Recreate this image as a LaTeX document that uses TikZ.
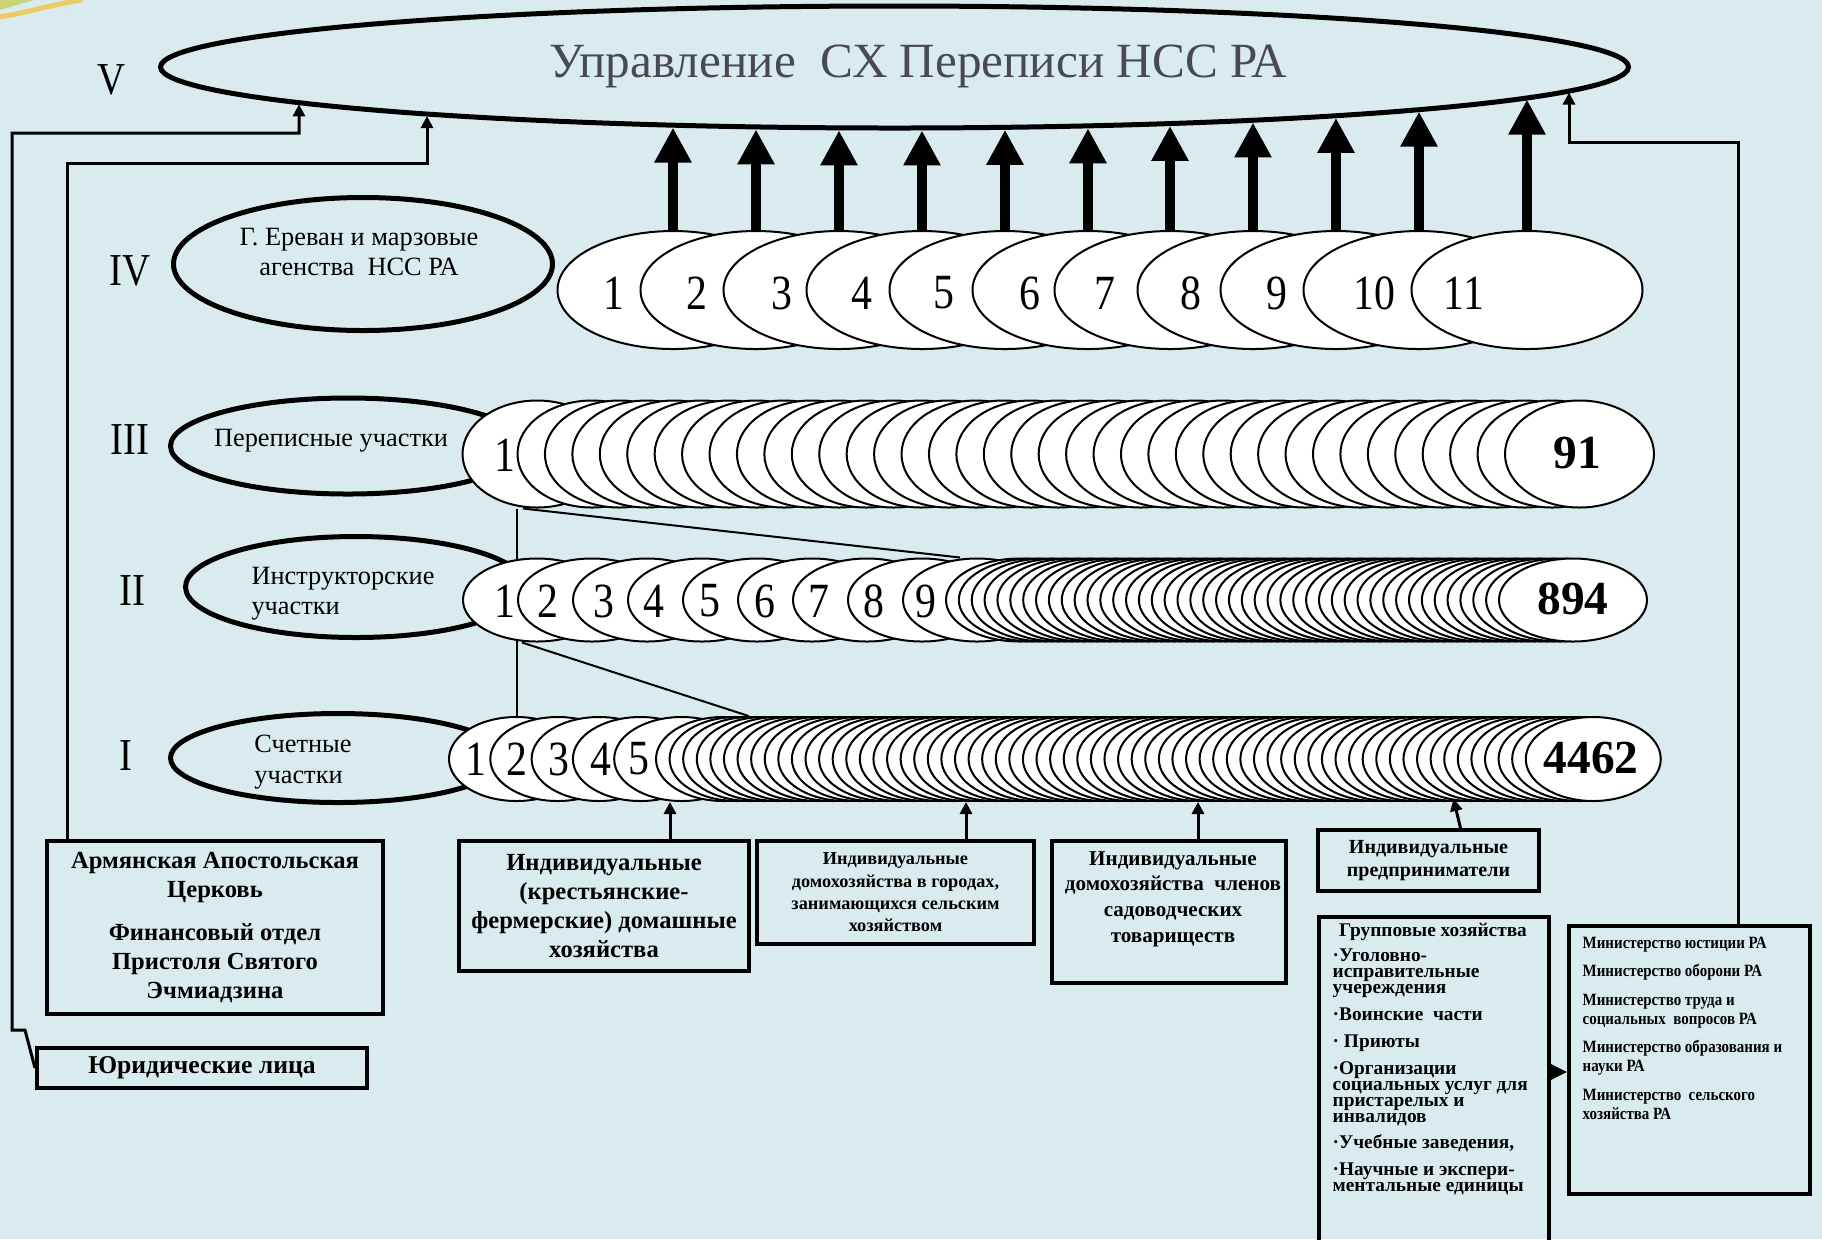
\documentclass[tikz,border=0pt]{standalone}
\usepackage{fontspec}
\setmainfont{Liberation Serif}
\newfontfamily\numfont[FakeStretch=0.85]{Liberation Serif}
\newfontfamily\narrowfont[FakeStretch=0.87]{Liberation Serif}
\usetikzlibrary{shapes.geometric, arrows.meta}
\definecolor{slide}{RGB}{218,235,240}
\definecolor{headgray}{RGB}{72,72,88}
\definecolor{streak}{RGB}{236,204,96}
\definecolor{leaf}{RGB}{200,214,120}
\pgfdeclarelayer{backdrop}
\pgfdeclarelayer{behind}
\pgfsetlayers{backdrop,behind,main}
\newcommand\tightlines{\lineskiplimit=-5pt\relax}
\tikzset{
    tier/.style={ellipse, draw, line width=0.5mm, inner sep=0pt},
    tiertext/.style={font=\fontsize{7.5}{8.6}\selectfont, align=center, inner sep=0pt},
    rank/.style={font=\numfont\fontsize{13}{13}\selectfont, inner sep=0pt},
    disc/.style={ellipse, draw, fill=white, line width=0.2mm, inner sep=0pt},
    disc4/.style={disc, minimum width=23.1mm, minimum height=11.8mm},
    disc3/.style={disc, minimum width=14.9mm, minimum height=10.7mm},
    disc2/.style={disc, minimum width=14.8mm, minimum height=8.3mm},
    disc1/.style={disc, minimum width=13.5mm, minimum height=8.4mm},
    num/.style={font=\numfont\fontsize{14}{14}\selectfont, inner sep=0pt},
    bignum/.style={font=\bfseries\fontsize{13.5}{14}\selectfont, inner sep=0pt},
    cellbox/.style={draw, line width=0.4mm, align=center, inner sep=0pt},
    bigarrow/.style={line width=1mm, -{Triangle[length=3.5mm, width=3.5mm]}},
    feed/.style={line width=0.3mm, -{Triangle[length=1.2mm, width=1.2mm]}},
    link/.style={line width=0.2mm},
    declare function={rim(\x)=67+63.5*sqrt(1-((\x-894.5)/736.5)^2);}
}

\begin{document}
\begin{tikzpicture}[x=0.1mm, y=-0.1mm]
\useasboundingbox (0,0) rectangle (1822,1239);
\begin{pgfonlayer}{backdrop}
    \fill[slide] (0,0) rectangle (1822,1239);
    \fill[leaf] (0,0) -- (34,0) .. controls (20,4) .. (0,10) -- cycle;
    \draw[streak, line width=0.5mm] (0,17) .. controls (30,12) and (50,5) .. (82,0);
\end{pgfonlayer}
\clip (0,0) rectangle (1822,1239);

% level V
\node[tier, minimum width=146.8mm, minimum height=12.2mm] (vring) at (894.5,67) {};
\node[font=\fontsize{14}{16}\selectfont, text=headgray] (vtitle) at (918,66) {Управление\ \ СХ Переписи НСС РА};

% roman numerals
\node[rank] (lv5) at (112,80) {V};
\node[rank] (lv4) at (130,271) {IV};
\node[rank] (lv3) at (130,440) {III};
\node[rank] (lv2) at (132,591) {II};
\node[rank] (lv1) at (126,756) {I};

% tier names
\node[tier, minimum width=37.9mm, minimum height=13.3mm] (t4) at (363,264) {};
\node[tiertext] (t4text) at (359,252) {Г. Ереван и марзовые\\агенства\ \ НСС РА};
\node[tier, minimum width=35.5mm, minimum height=9.6mm] (t3) at (348,446) {};
\node[tiertext] (t3text) at (331,441) {Переписные участки};
\node[tier, minimum width=34.1mm, minimum height=10.1mm] (t2) at (356,587) {};
\node[tiertext, align=left] (t2text) at (343,594) {Инструкторские\\участки};
\node[tier, minimum width=33.5mm, minimum height=8.9mm] (t1) at (338,758) {};
\node[tiertext, align=left] (t1text) at (303,762) {Счетные\\участки};

% row IV
\foreach \i/\x/\lx in {1/673/614, 2/756/697, 3/839/782, 4/922/862, 5/1005/944, 6/1088/1030,
                       7/1170/1105, 8/1253/1191, 9/1336/1277, 10/1419/1374, 11/1527/1464}{
    \node[disc4] (r4-\i) at (\x,290) {};
    \node[num] (n4-\i) at (\lx,293) {\i};
    \coordinate (a\i) at (\x,{rim(\x)});
}
\foreach \i in {1,...,11}
    \draw[bigarrow] (r4-\i.north) -- (a\i);

% row III
\node[disc3] (r3-1) at (537,454) {};
\node[num] (n3-1) at (505,455) {1};
\foreach \i in {2,...,38}
    \node[disc3] (r3-\i) at ({592+(\i-2)*27.43},454) {};
\node[bignum] (n3-38) at (1577,453) {91};

% row II
\foreach \i/\lx in {1/505, 2/548, 3/604, 4/654, 5/710, 6/765, 7/819, 8/874, 9/926}{
    \node[disc2] (r2-\i) at ({537+(\i-1)*55},600) {};
    \node[num] (n2-\i) at (\lx,601) {\i};
}
\foreach \i in {10,...,53}
    \node[disc2] (r2-\i) at ({1020+(\i-10)*12.86},600) {};
\node[bignum] (n2-53) at (1573,599) {894};

% row I
\foreach \i/\lx in {1/476, 2/517, 3/559, 4/601, 5/639}{
    \node[disc1] (r1-\i) at ({516.5+(\i-1)*41.3},759) {};
    \node[num] (n1-\i) at (\lx,759) {\i};
}
\foreach \i in {6,...,70}
    \node[disc1] (r1-\i) at ({723.5+(\i-6)*13.59},759) {};
\node[bignum] (n1-70) at (1591,758) {4462};

\begin{pgfonlayer}{behind}
    \draw[link] (r1-1.north) -- (r1-1.north |- r3-1.south);
    \draw[link] ([xshift=-1.4mm]r3-1.south) -- ([xshift=-1.7mm]r2-9.north);
    \draw[link] ([xshift=-1.5mm]r2-1.south) -- ([xshift=-0.2mm]r1-8.north);
\end{pgfonlayer}

% respondents
\node[cellbox, minimum width=33.6mm, minimum height=17.3mm, font=\bfseries\fontsize{7}{8.25}\selectfont] (church) at (215,927.5)
    {Армянская Апостольская\\Церковь\\[4pt]Финансовый отдел\\Пристоля Святого\\Эчмиадзина};
\node[cellbox, minimum width=33mm, minimum height=4mm, font=\bfseries\fontsize{7.3}{8.5}\selectfont] (yur) at (202,1068) {Юридические лица};
\node[cellbox, minimum width=29mm, minimum height=13mm, font=\bfseries\fontsize{7}{8.25}\selectfont] (crop) at (604,906)
    {Индивидуальные\\(крестьянские-\\фермерские) домашные\\хозяйства};
\node[cellbox, minimum width=27.7mm, minimum height=10.3mm, font=\bfseries\fontsize{5.2}{6.35}\selectfont] (urban) at (895.5,892.5)
    {Индивидуальные\\домохозяйства в городах,\\занимающихся сельским\\хозяйством};
\node[cellbox, minimum width=23.4mm, minimum height=14.2mm] (garden) at (1169,912) {};
\node[font=\bfseries\fontsize{6}{7.3}\selectfont, align=center] (gardentext) at (1173,899)
    {Индивидуальные\\домохозяйства\ \ членов\\садоводческих\\товариществ};
\node[cellbox, minimum width=22.1mm, minimum height=6.1mm, font=\bfseries\fontsize{5.7}{6.5}\selectfont] (entre) at (1428.5,860.5)
    {Индивидуальные\\предприниматели};
\node[cellbox, minimum width=23mm, minimum height=35.1mm] (grp) at (1434,1092.5) {};
\node[font=\bfseries\fontsize{5.5}{6}\selectfont] (grptitle) at (1433,932) {Групповые хозяйства};
\node[font=\bfseries\fontsize{5.5}{4.55}\selectfont\tightlines, align=left, anchor=west, inner sep=0pt] (grpitems) at (1332,1072)
    {·Уголовно-\\исправительные\\учереждения\\[3.1pt]·Воинские\ \ части\\[3.1pt]·\ Приюты\\[3.1pt]·Организации\\социальных услуг для\\пристарелых и\\инвалидов\\[3.1pt]·Учебные заведения,\\[3.1pt]·Научные и экспери-\\ментальные единицы};
\node[cellbox, minimum width=24.1mm, minimum height=26.8mm] (mins) at (1689.5,1060) {};
\node[font=\narrowfont\bfseries\fontsize{4.9}{5.4}\selectfont, align=left, anchor=west, inner sep=0pt] (minstext) at (1582,1028)
    {Министерство юстиции РА\\[2.7pt]Министерство оборони РА\\[2.7pt]Министерство труда и\\социальных\ \ вопросов РА\\[2.7pt]Министерство образования и\\науки РА\\[2.7pt]Министерство\ \ сельского\\хозяйства РА};

% feeds to the census management
\coordinate (vt1) at (299,{rim(299)});
\coordinate (vt2) at (427,{rim(427)});
\coordinate (vt3) at (1569,{rim(1569)});
\draw[feed] (yur.west) -- (25,1030) -- (12,1030) -- (12,133) -- (299,133) -- (vt1);
\draw[feed] ([xshift=2.2mm]church.north west) |- (427,163) -- (vt2);
\draw[feed] ([xshift=4.85mm]mins.north) |- (1569,142) -- (vt3);
\coordinate (gm) at ([yshift=-1.2mm]mins.west);
\draw[line width=0.3mm, -{Triangle[length=1.6mm, width=1.5mm]}] (gm -| grp.east) -- (gm);

% feeds to the enumeration areas
\coordinate (f1) at ([xshift=6.6mm]crop.north);
\coordinate (f2) at ([xshift=7.05mm]urban.north);
\coordinate (f3) at ([xshift=2.9mm]garden.north);
\draw[feed] (f1) -- (f1 |- r1-1.south);
\draw[feed] (f2) -- (f2 |- r1-1.south);
\draw[feed] (f3) -- (f3 |- r1-1.south);
\draw[feed] ([xshift=3.2mm]entre.north) -- ++(-7,-29);
\end{tikzpicture}
\end{document}
